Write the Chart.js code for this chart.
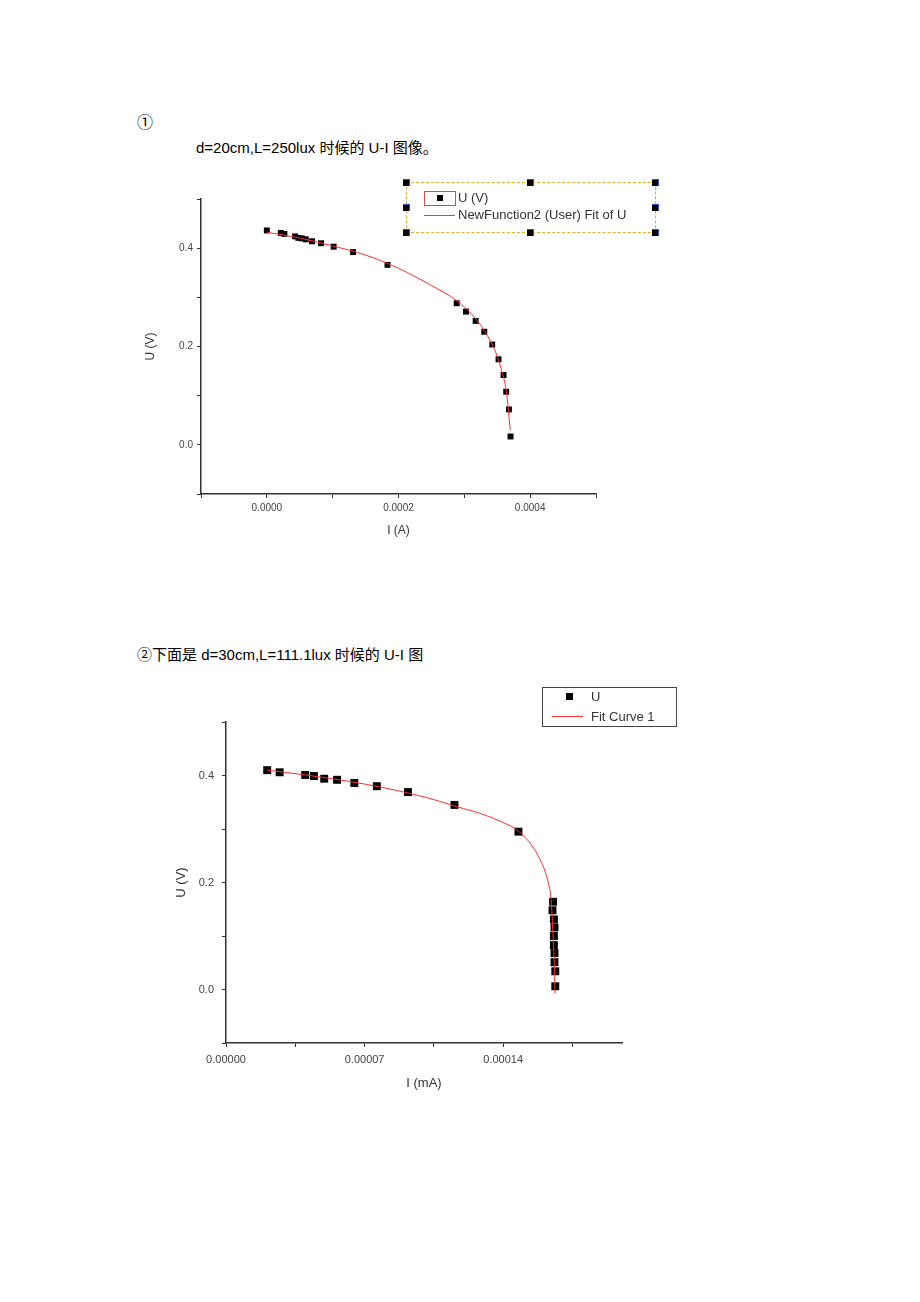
<!DOCTYPE html>
<html>
<head>
<meta charset="utf-8">
<script src="https://cdn.jsdelivr.net/npm/chart.js@4/dist/chart.umd.min.js"></script>
<style>
  body { margin: 0; background: #fff; }
  #page { position: relative; width: 920px; height: 1302px; overflow: hidden; background: #fff; }
  .txt { position: absolute; white-space: nowrap; font-family: "Liberation Sans", "Noto Sans CJK SC", sans-serif; font-size: 15px; line-height: 20px; color: #000; }
  .box { position: absolute; }
  .lg { position: absolute; white-space: nowrap; font-family: "Liberation Sans", Arial, sans-serif; font-size: 13px; line-height: 16px; color: #333; }
  .handle { position: absolute; width: 7px; height: 7px; background: #000; box-shadow: inset -1px 1px 0 #3050c0; }
  canvas { position: absolute; }
</style>
</head>
<body>
<div id="page">
  <div class="txt" style="left:137px; top:113px; font-size:16px;">①</div>
  <div class="txt" style="left:196px; top:138px;">d=20cm,L=250lux 时候的 U-I 图像。</div>
  <div class="txt" style="left:137px; top:645px;">②下面是 d=30cm,L=111.1lux 时候的 U-I 图</div>

  <canvas id="chart1" width="480" height="370" style="left:130px; top:180px;"></canvas>
  <canvas id="chart2" width="490" height="400" style="left:150px; top:700px;"></canvas>

  <!-- legend 1 (Origin style, selected frame) -->
  <div class="box" style="left:406px; top:182px; width:248px; height:49px; border:1px dashed #f0a828;"></div>
  <div class="handle" style="left:403px; top:179px;"></div>
  <div class="handle" style="left:527px; top:179px;"></div>
  <div class="handle" style="left:652px; top:179px;"></div>
  <div class="handle" style="left:403px; top:204px;"></div>
  <div class="handle" style="left:652px; top:204px;"></div>
  <div class="handle" style="left:403px; top:229px;"></div>
  <div class="handle" style="left:527px; top:229px;"></div>
  <div class="handle" style="left:652px; top:229px;"></div>
  <div class="box" style="left:424px; top:191px; width:30px; height:13px; border:1px solid #e04848;"></div>
  <div class="box" style="left:437px; top:195px; width:6px; height:6px; background:#000;"></div>
  <div class="lg" style="left:458px; top:190px;">U (V)</div>
  <div class="box" style="left:424px; top:215px; width:31px; height:1px; background:#ff3030;"></div>
  <div class="lg" style="left:458px; top:207px;">NewFunction2 (User) Fit of U</div>

  <!-- legend 2 -->
  <div class="box" style="left:542px; top:687px; width:133px; height:38px; border:1px solid #444;"></div>
  <div class="box" style="left:566px; top:693px; width:7px; height:7px; background:#000;"></div>
  <div class="lg" style="left:591px; top:689px;">U</div>
  <div class="box" style="left:552px; top:716px; width:31px; height:1px; background:#ff3030;"></div>
  <div class="lg" style="left:591px; top:709px;">Fit Curve 1</div>
</div>

<script>
// chart 1: d=20cm, L=250lux  (I in A, U in V)
const i1 = [0.0000000, 0.0000212, 0.0000267, 0.0000429, 0.0000479, 0.0000530, 0.0000591, 0.0000686,
            0.0000823, 0.0001015, 0.0001310, 0.0001833, 0.0002884, 0.0003025, 0.0003172, 0.0003303,
            0.0003424, 0.0003520, 0.0003596, 0.0003636, 0.0003677, 0.0003702];
const u1 = [0.436, 0.431, 0.429, 0.424, 0.421, 0.420, 0.418, 0.414,
            0.410, 0.403, 0.392, 0.366, 0.288, 0.271, 0.252, 0.230,
            0.204, 0.174, 0.142, 0.108, 0.072, 0.017];
const fitI1 = [0, 0.00005, 0.0001, 0.00015, 0.0002, 0.00025, 0.000288, 0.00032,
               0.00034, 0.00035, 0.000358, 0.000364, 0.0003667, 0.0003697];
const fitU1 = [0.4325, 0.4205, 0.4045, 0.386, 0.359, 0.324, 0.2935, 0.252,
               0.210, 0.180, 0.145, 0.108, 0.073, 0.030];

// chart 2: d=30cm, L=111.1lux
const i2 = [0.0000208, 0.0000271, 0.0000400, 0.0000444, 0.0000496, 0.0000561, 0.0000648, 0.0000762,
            0.0000919, 0.0001154, 0.0001477, 0.0001652, 0.0001649, 0.0001656, 0.0001659, 0.0001656,
            0.0001656, 0.0001659, 0.0001659, 0.0001663, 0.0001663];
const u2 = [0.410, 0.406, 0.401, 0.399, 0.394, 0.392, 0.386, 0.380,
            0.369, 0.345, 0.295, 0.164, 0.148, 0.131, 0.116, 0.100,
            0.083, 0.068, 0.051, 0.034, 0.006];
const fitI2 = [0.0000208, 0.00004, 0.00007, 0.0001, 0.00012, 0.0001276, 0.00014, 0.000148,
               0.0001578, 0.0001628, 0.0001642, 0.0001652, 0.0001658, 0.0001662];
const fitU2 = [0.410, 0.401, 0.384, 0.360, 0.338, 0.330, 0.312, 0.295,
               0.249, 0.199, 0.168, 0.100, 0.050, -0.0075];

const pts = (xs, ys) => xs.map((x, k) => ({ x: x, y: ys[k] }));

function axis(o) {
  return {
    type: 'linear',
    min: o.min,
    max: o.max,
    ticks: {
      stepSize: o.step,
      includeBounds: false,
      autoSkip: false,
      maxRotation: 0,
      padding: o.pad,
      color: '#444',
      font: { family: 'Liberation Sans, Arial', size: o.fsize },
      callback: o.label,
    },
    grid: { drawOnChartArea: false, drawTicks: true, tickLength: 4, color: '#333' },
    border: { display: true, color: '#333', width: 1.5 },
    title: {
      display: true,
      text: o.title,
      color: '#333',
      font: { family: 'Liberation Sans, Arial', size: o.tsize },
      padding: o.tpad,
    },
    afterFit: o.fit,
  };
}

function drawChart(id, dataPts, fitPts, radius, xOpts, yOpts, padding) {
  const ctx = document.getElementById(id).getContext('2d');
  return new Chart(ctx, {
    type: 'scatter',
    data: {
      datasets: [
        {
          label: 'fit',
          data: fitPts,
          showLine: true,
          borderColor: '#ff2d2d',
          borderWidth: 1,
          pointRadius: 0,
          cubicInterpolationMode: 'monotone',
          fill: false,
        },
        {
          label: 'U',
          data: dataPts,
          showLine: false,
          pointStyle: 'rect',
          pointRadius: radius,
          backgroundColor: '#000',
          borderColor: '#000',
          borderWidth: 0,
        },
      ],
    },
    options: {
      responsive: false,
      animation: false,
      devicePixelRatio: 1,
      layout: { padding: padding },
      plugins: { legend: { display: false }, tooltip: { enabled: false } },
      scales: { x: axis(xOpts), y: axis(yOpts) },
    },
  });
}

drawChart('chart1', pts(i1, u1), pts(fitI1, fitU1), 4.2,
  {
    min: -0.0001, max: 0.0005, step: 0.0001, pad: 4, title: 'I (A)', tsize: 12, fsize: 10,
    tpad: { top: 0, bottom: 12 },
    label: (v) => { const k = Math.round(v / 0.0001); return (k >= 0 && k <= 4 && k % 2 === 0) ? (k * 0.0001).toFixed(4) : ''; },
    fit: (s) => { s.height = 56; },
  },
  {
    min: -0.1, max: 0.5, step: 0.1, pad: 4, title: 'U (V)', tsize: 12, fsize: 10,
    tpad: { top: 13, bottom: 0 },
    label: (v) => { const k = Math.round(v / 0.1); return (k >= 0 && k <= 4 && k % 2 === 0) ? (k / 10).toFixed(1) : ''; },
    fit: (s) => { s.width = 71; },
  },
  { left: 0, right: 14, top: 19, bottom: 0 }
);

drawChart('chart2', pts(i2, u2), pts(fitI2, fitU2), 5.6,
  {
    min: 0, max: 0.0002, step: 0.000035, pad: 6, title: 'I (mA)', tsize: 13, fsize: 11,
    tpad: { top: 0, bottom: 9 },
    label: (v) => { const k = Math.round(v / 0.000035); return (k >= 0 && k <= 4 && k % 2 === 0) ? (k * 0.000035).toFixed(5) : ''; },
    fit: (s) => { s.height = 57; },
  },
  {
    min: -0.1, max: 0.5, step: 0.1, pad: 8, title: 'U (V)', tsize: 13, fsize: 11,
    tpad: { top: 24, bottom: 0 },
    label: (v) => { const k = Math.round(v / 0.1); return (k >= 0 && k <= 4 && k % 2 === 0) ? (k / 10).toFixed(1) : ''; },
    fit: (s) => { s.width = 76; },
  },
  { left: 0, right: 18, top: 22, bottom: 0 }
);
</script>
</body>
</html>
